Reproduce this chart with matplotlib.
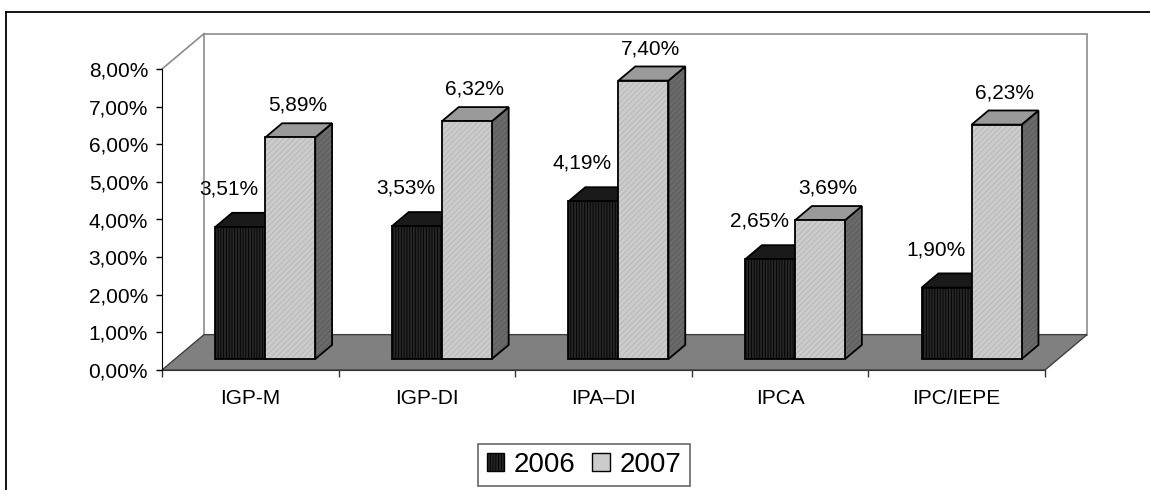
import matplotlib
matplotlib.use('Agg')
import matplotlib.pyplot as plt
from matplotlib.patches import Polygon, Rectangle, Patch
from matplotlib.lines import Line2D

categories = ['IGP-M', 'IGP-DI', 'IPA–DI', 'IPCA', 'IPC/IEPE']
vals_2006 = [3.51, 3.53, 4.19, 2.65, 1.90]
vals_2007 = [5.89, 6.32, 7.40, 3.69, 6.23]
series_names = ['2006', '2007']
yticks = [0, 1, 2, 3, 4, 5, 6, 7, 8]


def pct(v):
    return f"{v:.2f}".replace('.', ',') + '%'


plt.rcParams['font.family'] = ['Liberation Sans', 'DejaVu Sans']
plt.rcParams['hatch.linewidth'] = 0.6

fig = plt.figure(figsize=(11.5, 4.9), dpi=100)
ax = fig.add_axes([162 / 1150, 120 / 490, 883 / 1150, 301 / 490])
ax.set_xlim(0, 5)
ax.set_ylim(0, 8)
ax.patch.set_visible(False)

# depth of floor / walls in data units
dx, dy = 0.238, 0.94

# back wall + left wall edge
ax.add_patch(Rectangle((dx, dy), 5, 8, fc='white', ec='#8c8c8c', lw=1.2, clip_on=False, zorder=0))
ax.add_line(Line2D([0, dx], [8, 8 + dy], color='#8c8c8c', lw=1.2, clip_on=False, zorder=0))
# floor
ax.add_patch(Polygon([(0, 0), (5, 0), (5 + dx, dy), (dx, dy)], closed=True,
                     fc='#808080', ec='#404040', lw=1, clip_on=False, zorder=1))

# styles: front, top, side, hatch colours, hatch
styles = [
    dict(front='#262626', top='#1a1a1a', side='#1a1a1a', hc='#000000', shc='#000000', hatch='||||||'),
    dict(front='#cccccc', top='#9a9a9a', side='#6a6a6a', hc='#b4b4b4', shc='#5a5a5a', hatch='//////'),
]

bw = 0.283
bx, by = 0.31 * dx, 0.31 * dy   # bar plane offset
ddx, ddy = 0.4 * dx, 0.4 * dy   # bar depth
lab_off = [(-11, 38), (7.5, 32)]


def face(pts, fc, hc, hatch, z):
    ax.add_patch(Polygon(pts, closed=True, fc=fc, ec=hc, lw=0, hatch=hatch, clip_on=False, zorder=z))
    ax.add_patch(Polygon(pts, closed=True, fc='none', ec='black', lw=1.3, clip_on=False, zorder=z))


z = 2
for i in range(len(categories)):
    for j, vals in enumerate([vals_2006, vals_2007]):
        st = styles[j]
        h = vals[i]
        x0 = i + 0.228 + j * bw + bx
        y0 = by
        front = [(x0, y0), (x0 + bw, y0), (x0 + bw, y0 + h), (x0, y0 + h)]
        top = [(x0, y0 + h), (x0 + bw, y0 + h), (x0 + bw + ddx, y0 + h + ddy), (x0 + ddx, y0 + h + ddy)]
        side = [(x0 + bw, y0), (x0 + bw + ddx, y0 + ddy), (x0 + bw + ddx, y0 + h + ddy), (x0 + bw, y0 + h)]
        face(side, st['side'], st['shc'], st['hatch'] if j == 1 else None, z)
        face(top, st['top'], st['hc'], None, z)
        face(front, st['front'], st['hc'], st['hatch'], z + 1)
        z += 2
        ax.annotate(pct(h), xy=(x0 + bw / 2, y0 + h), xytext=lab_off[j],
                    textcoords='offset pixels', ha='center', va='center',
                    fontsize=15, annotation_clip=False, zorder=50)

# axes
for s in ['top', 'right']:
    ax.spines[s].set_visible(False)
ax.spines['left'].set_color('black')
ax.spines['bottom'].set_color('#333333')
ax.spines['left'].set_zorder(20)
ax.set_yticks(yticks)
ax.set_yticklabels([pct(t) for t in yticks], fontsize=15)
ax.tick_params(axis='y', length=4, width=1, pad=6)
ax.set_xticks(range(len(categories) + 1))
ax.set_xticklabels([])
ax.set_xticks([i + 0.5 for i in range(len(categories))], minor=True)
ax.set_xticklabels(categories, minor=True, fontsize=15)
ax.tick_params(axis='x', which='major', length=5, width=1, color='#333333')
ax.tick_params(axis='x', which='minor', length=0, pad=14)

# outer chart frame (cut by the image edge)
fig.add_artist(Line2D([6 / 1150, 1], [1 - 12 / 490, 1 - 12 / 490], color='black', lw=1.3))
fig.add_artist(Line2D([6 / 1150, 6 / 1150], [0, 1 - 12 / 490], color='black', lw=1.3))

handles = [Patch(fc=styles[k]['front'], ec='black', hatch=styles[k]['hatch'] if k == 0 else None, lw=1)
           for k in range(2)]
leg = fig.legend(handles, series_names, loc='center', bbox_to_anchor=(584 / 1150, 25 / 490),
                 ncol=2, fontsize=20, frameon=True, fancybox=False, edgecolor='#404040',
                 handlelength=0.62, handleheight=0.62, handletextpad=0.36, columnspacing=0.6,
                 borderpad=0.3, borderaxespad=0)
leg.get_frame().set_linewidth(1.2)

fig.savefig('out.png', dpi=100)
